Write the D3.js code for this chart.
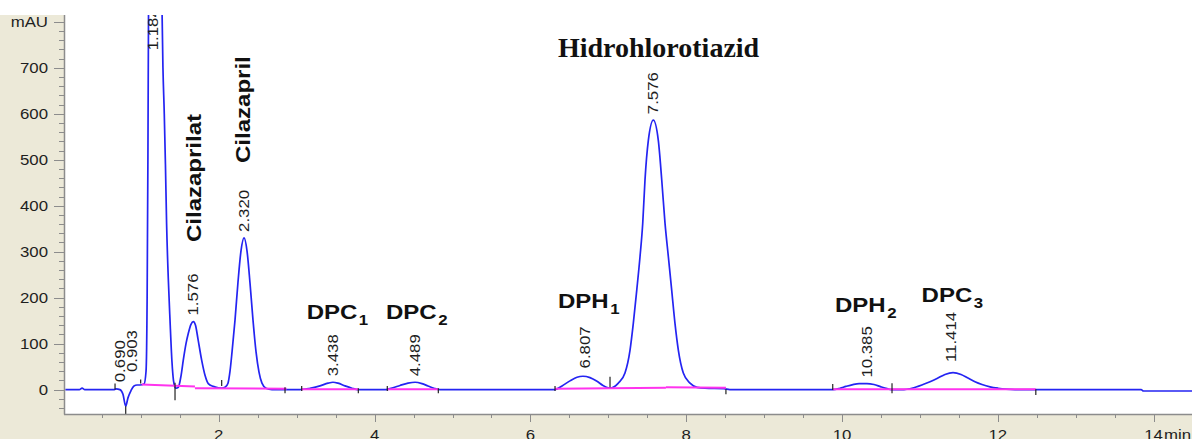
<!DOCTYPE html>
<html><head><meta charset="utf-8">
<script src="https://cdn.jsdelivr.net/npm/d3@7"></script>
<style>html,body{margin:0;padding:0;background:#fff;overflow:hidden}</style>
</head><body><svg id="c" width="1192" height="439"></svg>
<script>
// ---------- data ----------
const traceTime = [0.03,0.15,0.21,0.245,0.28,0.60,0.66,0.68,0.73,0.77,0.805,0.834,0.873,0.911,0.95,0.988,1.04,1.066,1.08,1.09,1.10,1.13,1.20,1.26,1.283,1.30,1.315,1.33,1.352,1.374,1.399,1.418,1.438,1.451,1.480,1.515,1.544,1.579,1.608,1.643,1.673,1.701,1.733,1.780,1.823,1.865,1.929,1.994,2.041,2.080,2.118,2.144,2.170,2.208,2.246,2.285,2.324,2.362,2.400,2.439,2.478,2.516,2.554,2.606,2.683,3.042,3.171,3.299,3.402,3.466,3.530,3.620,3.710,3.787,4.146,4.236,4.326,4.429,4.519,4.608,4.685,4.763,4.839,6.316,6.406,6.508,6.598,6.675,6.765,6.855,6.932,6.996,7.022,7.129,7.214,7.279,7.321,7.365,7.407,7.442,7.471,7.514,7.578,7.642,7.686,7.728,7.771,7.814,7.856,7.899,7.963,8.049,8.139,8.241,8.485,8.56,9.885,9.974,10.05,10.14,10.22,10.32,10.41,10.50,10.58,10.63,10.796,10.898,11.040,11.130,11.220,11.322,11.425,11.528,11.617,11.707,11.797,11.900,12.003,12.105,12.221,13.84,13.87,14.5];
const traceMAU  = [0,0,0,3,0,0,0,1.5,0,-10,-36,-18,-2,8,10,10,12,40,200,500,900,1200,1250,950,700,600,490,360,240,150,60,20,5,3,5,30,64,100,122,142,148,140,110,64,31,13,7,4,3,5,14,40,82,151,233,302,330,302,233,151,82,38,14,3,0,0,3,8,14,16,14,8,3,0,0,4,9,14,16,13,8,3,0,0,8,19,27,29,26,18,9,4,3,14,36,86,144,216,289,362,456,542,586,542,456,362,289,216,144,86,36,14,5,3,2,0,0,3,7,11,13,13,11,6,2,0,0,3,11,17,24,33,37,33,25,17,11,6,3,1,0,0,-3,-3];

// integration baselines: [t0, v0, t1, v1]
const baselineSegments = [[1.01,11,1.694,7],[1.694,3,2.87,2],[3.064,1,3.791,1],[4.163,1,4.818,1],[6.316,2,7.74,4],[7.74,5,8.51,4],[9.881,1,12.488,1]];

// peak start/end markers
const markerTime   = [0.668,0.805,0.997,1.438,2.037,2.850,3.064,3.791,4.163,4.818,6.316,7.022,8.510,9.881,10.642,12.488];
const markerTop    = [13.5,-36,22,15,21,5,8,3,8,3,8,28,1,12,14,1];
const markerBottom = [0.4,-55,13.5,-23,8,-8,-3,-8,-3,-8,-3,5,-10,-1,-8,-12];

// retention time labels
const rtText = ["0.690","0.903","1.184","1.576","2.320","3.438","4.489","6.807","7.576","10.385","11.414"];
const rtTime = [0.725,0.882,1.15,1.673,2.324,3.47,4.52,6.70,7.578,10.32,11.405];
const rtMAU  = [3,25,725,148,330,16,16,33,586,13,47];

// peak names
const peakNames = ["Cilazaprilat","Cilazapril","DPC","DPC","DPH","Hidrohlorotiazid","DPH","DPC"];
const peakSubs  = ["","","1","2","1","","2","3"];

// axis ticks
const xMajorTicks = [2,4,6,8,10,12,14];
const xMinorTicks = d3.range(0.5, 14.51, 0.5);
const yMajorTicks = [0,100,200,300,400,500,600,700,800];
const yTickLabels = ["0","100","200","300","400","500","600","700","mAU"];
const yMinorTicks = d3.range(-40, 801, 20);
const xUnit = "min";

// ---------- layout ----------
const W = 1192, H = 439;
const plotTop = 15, plotBottom = 414, plotLeft = 64;
const x = d3.scaleLinear().domain([0, 14.5]).range([63, 63 + 77.9 * 14.5]);
const y = d3.scaleLinear().domain([0, 800]).range([389.6, 389.6 - 0.4597 * 800]);

const svg = d3.select("#c");
const SANS = "'Liberation Sans', Arial, sans-serif";
const SERIF = "'Liberation Serif', 'Times New Roman', serif";
const BEIGE = "#ECE9D8";
const AXIS = "#8c8c8c";

function stretch(sel, k) {
  let last = 0;
  sel.each(function () {
    const L = this.getComputedTextLength();
    last = L * k;
    this.setAttribute("textLength", last);
    this.setAttribute("lengthAdjust", "spacingAndGlyphs");
  });
  return last;
}

svg.append("rect").attr("width", W).attr("height", H).attr("fill", "#fff");
svg.append("rect").attr("x", 0).attr("y", plotTop).attr("width", plotLeft).attr("height", H - plotTop).attr("fill", BEIGE);
svg.append("rect").attr("x", 0).attr("y", plotBottom).attr("width", W).attr("height", H - plotBottom).attr("fill", BEIGE);

const defs = svg.append("defs");
defs.append("clipPath").attr("id", "plotclip").append("rect")
  .attr("x", plotLeft).attr("y", plotTop).attr("width", W - plotLeft).attr("height", plotBottom - plotTop);
defs.append("clipPath").attr("id", "allclip").append("rect")
  .attr("x", 0).attr("y", plotTop).attr("width", W).attr("height", H - plotTop);

const plot = svg.append("g").attr("clip-path", "url(#plotclip)");

// trace
const pts = traceTime.map((t, i) => [t, traceMAU[i]]);
const line = d3.line().x(d => x(d[0])).y(d => y(d[1])).curve(d3.curveMonotoneX);
plot.append("path").datum(pts).attr("d", line)
  .attr("fill", "none").attr("stroke", "#2424f2").attr("stroke-width", 1.7).attr("stroke-linejoin", "round");

// integration baselines
plot.selectAll("line.base").data(baselineSegments).join("line").attr("class", "base")
  .attr("x1", d => x(d[0])).attr("y1", d => y(d[1]))
  .attr("x2", d => x(d[2])).attr("y2", d => y(d[3]))
  .attr("stroke", "#ff33ee").attr("stroke-width", 2);

// markers
plot.selectAll("line.mk").data(markerTime).join("line").attr("class", "mk")
  .attr("x1", d => x(d)).attr("x2", d => x(d))
  .attr("y1", (d, i) => y(markerTop[i])).attr("y2", (d, i) => y(markerBottom[i]))
  .attr("stroke", "#222").attr("stroke-width", 1.2);

// retention time labels
const rt = plot.selectAll("text.rt").data(rtText).join("text").attr("class", "rt")
  .attr("transform", (d, i) => `translate(${x(rtTime[i])},${y(rtMAU[i]) - 6}) rotate(-90)`)
  .attr("dy", "0.36em").attr("text-anchor", "start")
  .attr("font-family", SANS).attr("font-size", 14).attr("fill", "#1e1e1e")
  .text(d => d);
stretch(rt, 1.2);

// peak names
const nameLayout = [
  {t: 1.771, v: 321, rot: true},
  {t: 2.400, v: 493, rot: true},
  {t: 3.128, v: 153},
  {t: 4.146, v: 153.6},
  {t: 6.354, v: 177},
  {t: 6.354, v: 724, serif: true},
  {t: 9.910, v: 169},
  {t: 11.022, v: 191.6}
];
peakNames.forEach((name, i) => {
  const L = nameLayout[i];
  const px = x(L.t), py = y(L.v);
  if (L.rot) {
    const t = plot.append("text")
      .attr("transform", `translate(${px},${py}) rotate(-90)`)
      .attr("font-family", SANS).attr("font-weight", "bold").attr("font-size", 20)
      .attr("fill", "#111").text(name);
    stretch(t, 1.2);
  } else if (L.serif) {
    plot.append("text").attr("x", px).attr("y", py)
      .attr("font-family", SERIF).attr("font-weight", "bold").attr("font-size", 28)
      .attr("fill", "#111").text(name);
  } else {
    const t = plot.append("text").attr("x", px).attr("y", py)
      .attr("font-family", SANS).attr("font-weight", "bold").attr("font-size", 20)
      .attr("fill", "#111").text(name);
    const w = stretch(t, 1.2);
    const s = plot.append("text").attr("x", px + w + 1.5).attr("y", py + 6)
      .attr("font-family", SANS).attr("font-weight", "bold").attr("font-size", 14)
      .attr("fill", "#111").text(peakSubs[i]);
    stretch(s, 1.2);
  }
});

// ---------- axes ----------
const axes = svg.append("g").attr("clip-path", "url(#allclip)");
// y axis line
axes.append("line").attr("x1", plotLeft + 0.5).attr("x2", plotLeft + 0.5)
  .attr("y1", plotTop).attr("y2", plotBottom + 0.5).attr("stroke", AXIS).attr("stroke-width", 1.5);
axes.selectAll("line.ymin").data(yMinorTicks).join("line").attr("class", "ymin")
  .attr("x1", plotLeft - 5).attr("x2", plotLeft)
  .attr("y1", d => Math.round(y(d)) + 0.5).attr("y2", d => Math.round(y(d)) + 0.5)
  .attr("stroke", AXIS).attr("stroke-width", 1);
axes.selectAll("line.ymaj").data(yMajorTicks).join("line").attr("class", "ymaj")
  .attr("x1", plotLeft - 10).attr("x2", plotLeft)
  .attr("y1", d => Math.round(y(d)) + 0.5).attr("y2", d => Math.round(y(d)) + 0.5)
  .attr("stroke", AXIS).attr("stroke-width", 1);
const yl = axes.selectAll("text.yl").data(yMajorTicks).join("text").attr("class", "yl")
  .attr("x", plotLeft - 16).attr("y", d => y(d)).attr("dy", "0.36em")
  .attr("text-anchor", "end").attr("font-family", SANS).attr("font-size", 14).attr("fill", "#1e1e1e")
  .text((d, i) => yTickLabels[i]);
stretch(yl, 1.2);

// x axis line
axes.append("line").attr("x1", plotLeft).attr("x2", W)
  .attr("y1", plotBottom + 0.5).attr("y2", plotBottom + 0.5).attr("stroke", AXIS).attr("stroke-width", 1.5);
axes.selectAll("line.xmin").data(xMinorTicks).join("line").attr("class", "xmin")
  .attr("x1", d => Math.round(x(d)) + 0.5).attr("x2", d => Math.round(x(d)) + 0.5)
  .attr("y1", plotBottom).attr("y2", d => plotBottom + (xMajorTicks.includes(d) ? 8 : 4))
  .attr("stroke", AXIS).attr("stroke-width", 1);
const xl = axes.selectAll("text.xl").data(xMajorTicks).join("text").attr("class", "xl")
  .attr("x", d => x(d)).attr("y", 440)
  .attr("text-anchor", "middle").attr("font-family", SANS).attr("font-size", 14).attr("fill", "#1e1e1e")
  .text(d => d);
stretch(xl, 1.2);
const lastW = 2 * 0.556 * 14 * 1.2;
const mt = axes.append("text").attr("x", x(xMajorTicks[xMajorTicks.length - 1]) + lastW / 2 + 1).attr("y", 440)
  .attr("font-family", SANS).attr("font-size", 14).attr("fill", "#1e1e1e").text(xUnit);
stretch(mt, 1.2);
</script></body></html>
